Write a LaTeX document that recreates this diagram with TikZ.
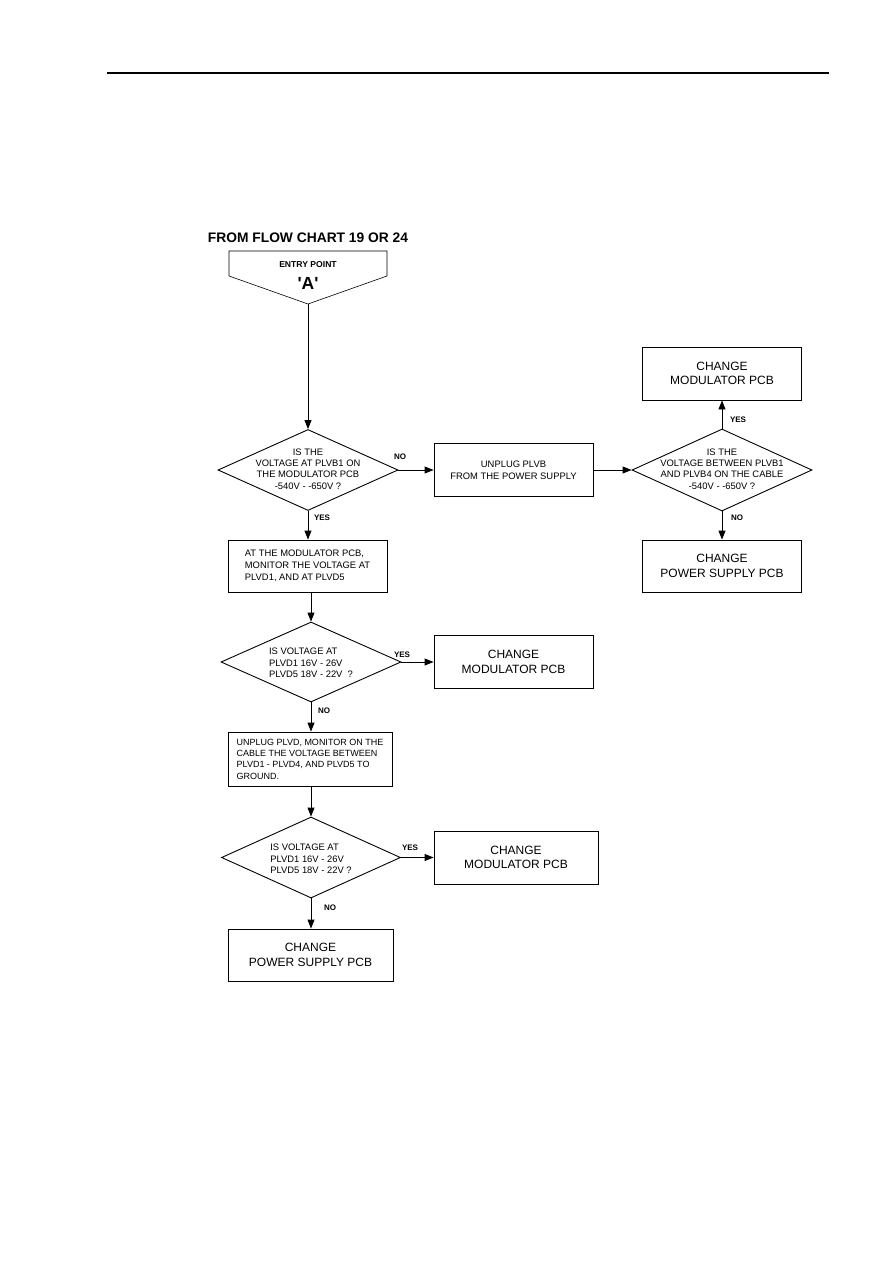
\documentclass[tikz,border=0pt]{standalone}
\usepackage{fontspec}
\setmainfont{Liberation Sans}
\usetikzlibrary{shapes.geometric,arrows.meta}
\begin{document}
\begin{tikzpicture}[x=1pt,y=-1pt,
  box/.style={draw,line width=0.9pt,inner sep=0pt,align=center,font=\fontsize{12}{14.5}\selectfont},
  sbox/.style={box,font=\fontsize{9.4}{12}\selectfont},
  dia/.style={draw,diamond,line width=0.9pt,inner sep=0pt},
  dtext/.style={align=center,inner sep=0pt,font=\fontsize{9.4}{11.4}\selectfont},
  lbl/.style={inner sep=0pt,font=\bfseries\fontsize{8}{9}\selectfont},
  arr/.style={-{Triangle[length=9pt,width=7pt]},line width=0.9pt}]
\useasboundingbox (0,0) rectangle (893,1263);
\draw[line width=1.2pt] (107,73) -- (829,73);
% title and entry
\node[inner sep=0pt,font=\bfseries\fontsize{13.8}{16}\selectfont] (title) at (308,238) {FROM FLOW CHART 19 OR 24};
\draw[line width=0.6pt] (229,251) -- (387,251) -- (387,276) -- (308,304) -- (229,276) -- cycle;
\coordinate (apex) at (308,304);
\node[inner sep=0pt,font=\bfseries\fontsize{8.6}{10}\selectfont] (entry) at (308,265) {ENTRY POINT};
\node[inner sep=0pt,font=\bfseries\fontsize{17.5}{20}\selectfont] (A) at (308,283) {\textquotesingle A\textquotesingle};
% diamonds
\node[dia,minimum width=180pt,minimum height=81pt] (d1) at (308,470) {};
\node[dtext] (t1) at (308,469) {IS THE\\VOLTAGE AT PLVB1 ON\\THE MODULATOR PCB\\-540V - -650V ?};
\node[dia,minimum width=180pt,minimum height=82pt] (d2) at (722,470) {};
\node[dtext] (t2) at (722,469) {IS THE\\VOLTAGE BETWEEN PLVB1\\AND PLVB4 ON THE CABLE\\-540V - -650V ?};
\node[dia,minimum width=180pt,minimum height=80pt] (d3) at (311,662) {};
\node[dtext,align=left] (t3) at (311,663) {IS VOLTAGE AT\\PLVD1 16V - 26V\\PLVD5 18V - 22V\ \ ?};
\node[dia,minimum width=179pt,minimum height=81pt] (d4) at (311,857.5) {};
\node[dtext,align=left] (t4) at (311,859) {IS VOLTAGE AT\\PLVD1 16V - 26V\\PLVD5 18V - 22V ?};
% boxes
\node[box,minimum width=159pt,minimum height=53pt] (m1) at (722,373.5) {CHANGE\\MODULATOR PCB};
\node[sbox,minimum width=159pt,minimum height=53pt] (ub) at (513.5,470) {UNPLUG PLVB\\FROM THE POWER SUPPLY};
\node[box,minimum width=159pt,minimum height=52pt] (ps1) at (722,566) {CHANGE\\POWER SUPPLY PCB};
\node[sbox,align=left,minimum width=159pt,minimum height=52pt] (am) at (307.5,566) {AT THE MODULATOR PCB,\\MONITOR THE VOLTAGE AT\\PLVD1, AND AT PLVD5};
\node[box,minimum width=159pt,minimum height=53pt] (m2) at (513.5,662) {CHANGE\\MODULATOR PCB};
\node[sbox,align=left,minimum width=164pt,minimum height=54pt,font=\fontsize{9}{11.3}\selectfont] (ud) at (310,759) {UNPLUG PLVD, MONITOR ON THE\\CABLE THE VOLTAGE BETWEEN\\PLVD1 - PLVD4, AND PLVD5 TO\\GROUND.};
\node[box,minimum width=164pt,minimum height=53pt] (m3) at (516,857.5) {CHANGE\\MODULATOR PCB};
\node[box,minimum width=165pt,minimum height=52pt] (ps2) at (310.5,955) {CHANGE\\POWER SUPPLY PCB};
% connectors
\draw[arr] (apex) -- (d1.north);
\draw[arr] (d1.east) -- (ub.west |- d1.east);
\draw[arr] (ub.east) -- (d2.west |- ub.east);
\draw[arr] (d2.north) -- (m1.south -| d2.north);
\draw[arr] (d2.south) -- (ps1.north -| d2.south);
\draw[arr] (d1.south) -- (am.north -| d1.south);
\draw[arr] (am.south -| d3.north) -- (d3.north);
\draw[arr] (d3.east) -- (m2.west |- d3.east);
\draw[arr] (d3.south) -- (ud.north -| d3.south);
\draw[arr] (ud.south -| d4.north) -- (d4.north);
\draw[arr] (d4.east) -- (m3.west |- d4.east);
\draw[arr] (d4.south) -- (ps2.north -| d4.south);
% labels
\node[lbl] (l1) at (400,457) {NO};
\node[lbl] (l2) at (322,518) {YES};
\node[lbl] (l3) at (738,420) {YES};
\node[lbl] (l4) at (737,518) {NO};
\node[lbl] (l5) at (402,655) {YES};
\node[lbl] (l6) at (324,711) {NO};
\node[lbl] (l7) at (410,848) {YES};
\node[lbl] (l8) at (330,908) {NO};
\end{tikzpicture}
\end{document}
